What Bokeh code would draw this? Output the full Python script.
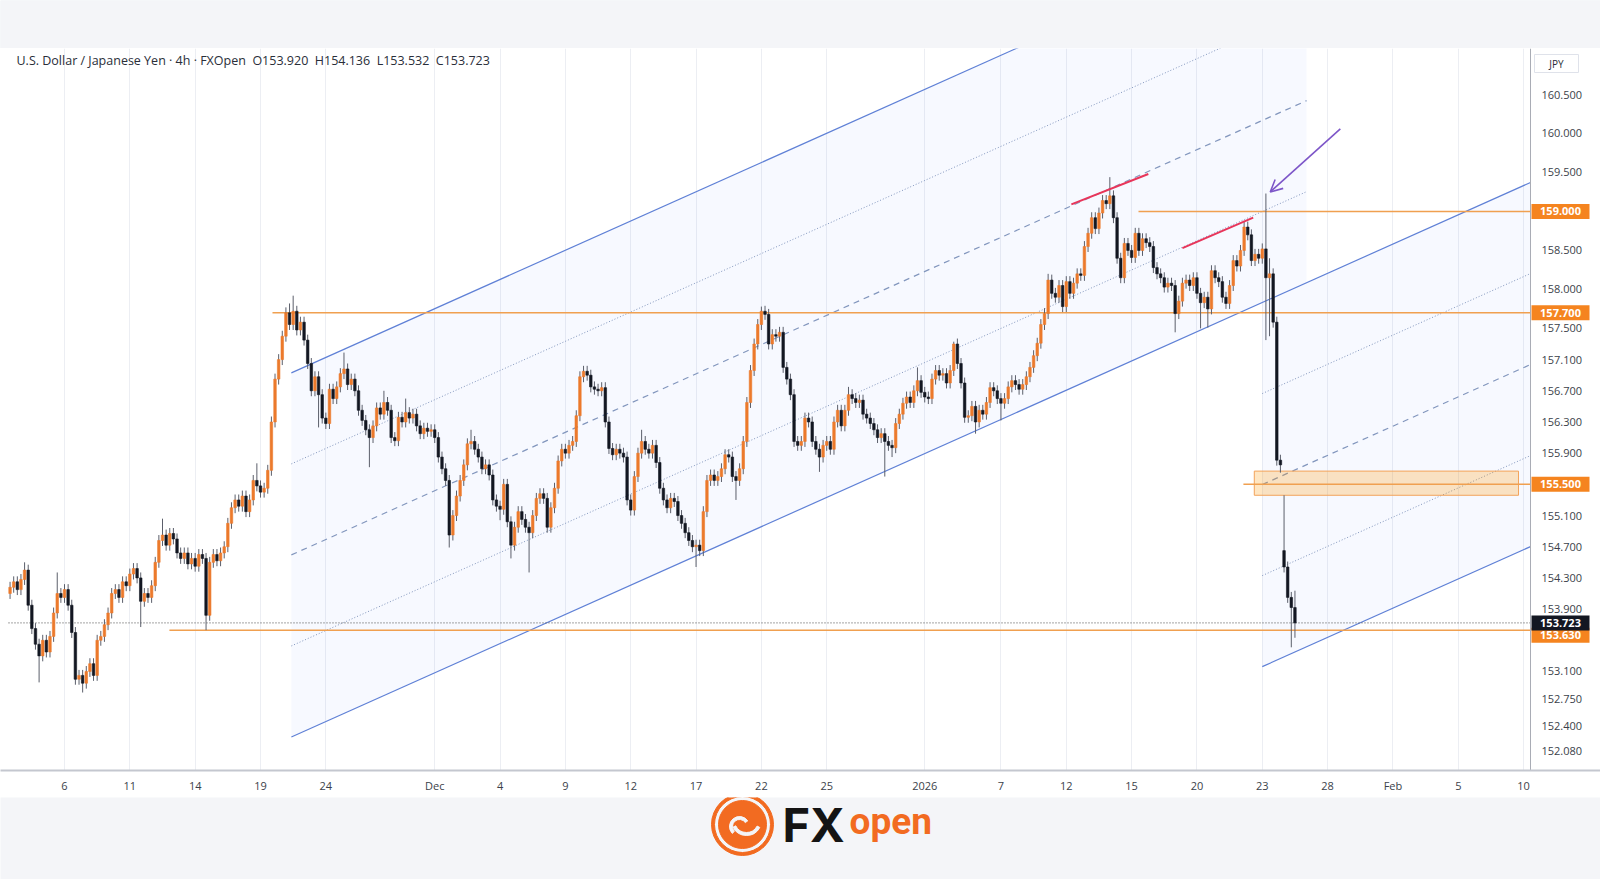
import numpy as np
from bokeh.plotting import figure
from bokeh.models import (Range1d, FixedTicker, Label, ColumnDataSource, Arrow, OpenHead)
from bokeh.layouts import column
from bokeh.embed import file_html
from bokeh.resources import INLINE
from bokeh.core.properties import value

# ---------------- data (USD/JPY 4h) ----------------
FIRST_BAR = 3          # bar index of first visible candle (bar 0 = Nov 3 00:00)
CLOSES = [
    154.18, 154.25, 154.15, 154.28, 154.40, 153.95,
    153.65, 153.45, 153.30, 153.50, 153.35, 153.55,
    153.85, 154.10, 154.05, 154.15, 153.95, 153.60,
    153.00, 153.05, 152.95, 153.10, 153.20, 153.05,
    153.50, 153.55, 153.70, 153.85, 154.10, 154.15,
    154.05, 154.25, 154.20, 154.35, 154.42, 154.30,
    154.00, 154.10, 154.05, 154.20, 154.50, 154.78,
    154.85, 154.72, 154.87, 154.80, 154.62, 154.55,
    154.62, 154.48, 154.55, 154.45, 154.60, 154.55,
    153.82, 154.50, 154.60, 154.52, 154.62, 154.70,
    155.00, 155.20, 155.30, 155.22, 155.35, 155.15,
    155.30, 155.55, 155.48, 155.40, 155.45, 155.68,
    156.30, 156.85, 157.10, 157.40, 157.70, 157.55,
    157.72, 157.48, 157.58, 157.35, 157.05, 156.70,
    156.88, 156.65, 156.35, 156.28, 156.72, 156.60,
    156.75, 156.92, 156.98, 156.78, 156.85, 156.70,
    156.45, 156.32, 156.20, 156.10, 156.25, 156.48,
    156.40, 156.55, 156.45, 156.10, 156.06, 156.36,
    156.30, 156.42, 156.35, 156.40, 156.25, 156.15,
    156.22, 156.18, 156.20, 156.10, 155.85, 155.70,
    155.55, 154.85, 155.10, 155.35, 155.55, 155.75,
    156.02, 156.05, 155.95, 155.85, 155.70, 155.75,
    155.62, 155.30, 155.22, 155.18, 155.50, 155.02,
    154.72, 154.95, 155.15, 155.05, 154.95, 154.88,
    155.10, 155.32, 155.38, 155.32, 154.95, 155.20,
    155.45, 155.80, 155.95, 155.90, 156.00, 156.05,
    156.38, 156.88, 156.95, 156.90, 156.75, 156.72,
    156.70, 156.74, 156.30, 155.96, 155.88, 155.95,
    155.90, 155.85, 155.30, 155.17, 155.60, 155.90,
    156.05, 155.95, 155.90, 156.00, 155.78, 155.45,
    155.30, 155.20, 155.32, 155.28, 155.10, 155.00,
    154.88, 154.78, 154.70, 154.72, 154.65, 155.15,
    155.55, 155.62, 155.55, 155.60, 155.70, 155.88,
    155.85, 155.60, 155.55, 155.70, 156.05, 156.55,
    156.96, 157.30, 157.55, 157.72, 157.68, 157.30,
    157.42, 157.40, 157.45, 157.00, 156.85, 156.65,
    156.05, 156.00, 156.05, 156.35, 156.30, 156.05,
    155.95, 155.85, 156.00, 156.05, 155.95, 156.30,
    156.45, 156.25, 156.45, 156.65, 156.60, 156.55,
    156.58, 156.40, 156.35, 156.28, 156.20, 156.10,
    156.15, 156.05, 156.00, 155.97, 156.28, 156.40,
    156.54, 156.62, 156.55, 156.70, 156.83, 156.68,
    156.62, 156.60, 156.85, 156.96, 156.90, 156.92,
    156.80, 156.96, 157.30, 157.05, 156.80, 156.36,
    156.38, 156.50, 156.30, 156.45, 156.40, 156.55,
    156.74, 156.70, 156.60, 156.54, 156.60, 156.75,
    156.83, 156.78, 156.72, 156.78, 156.88, 157.00,
    157.15, 157.31, 157.55, 157.69, 158.12, 157.95,
    157.90, 158.05, 157.78, 158.10, 157.95, 158.08,
    158.20, 158.18, 158.55, 158.72,
    158.92, 158.78, 158.98, 159.14, 159.10, 159.20,
    158.92, 158.40, 158.15, 158.59, 158.50, 158.41,
    158.72, 158.50, 158.65, 158.60, 158.55, 158.28,
    158.20, 158.15, 158.03, 158.08, 158.05, 157.69,
    157.85, 158.08, 158.12, 158.05, 158.15, 157.95,
    157.83, 157.90, 157.75, 158.24, 158.15, 158.10,
    157.90, 157.82, 158.05, 158.37, 158.30, 158.50,
    158.80, 158.70, 158.37, 158.45, 158.40, 158.52,
    158.15, 158.20, 157.58, 155.81, 155.75,
    154.44, 154.05, 153.92, 153.723,
]
FIRST_OPEN = 154.10
OPEN_GAPS = {354: 154.65}            # Monday 26 Jan gap open
HIGHS_READ = {7: 154.50, 16: 154.37, 45: 155.06, 71: 155.77, 80: 157.82, 81: 157.92,
              95: 157.19, 106: 156.70, 112: 156.60, 130: 156.20, 177: 156.20,
              210: 157.78, 234: 156.75, 253: 157.00, 263: 157.33, 289: 158.20,
              306: 159.44, 343: 158.88, 349: 159.23, 350: 158.40, 354: 155.36,
              357: 154.136}
LOWS_READ = {11: 152.96, 23: 152.83, 39: 153.67, 57: 153.63, 88: 156.23, 102: 155.72,
             124: 154.69, 138: 155.04, 141: 154.55, 146: 154.37, 192: 154.44,
             203: 155.30, 226: 155.66, 244: 155.60, 246: 155.85, 269: 156.15,
             276: 156.32, 324: 157.45, 331: 157.50, 333: 157.51, 349: 157.35,
             350: 157.40, 353: 155.65, 356: 153.41, 357: 153.532}
TYPICAL_WICK = 0.07

# axis labels
Y_TICKS = [152.08, 152.4, 152.75, 153.1, 153.9, 154.3, 154.7, 155.1, 155.9,
           156.3, 156.7, 157.1, 157.5, 158.0, 158.5, 159.5, 160.0, 160.5]
X_TICK_LABELS = ["6", "11", "14", "19", "24", "Dec", "4", "9", "12", "17", "22", "25",
                 "2026", "7", "12", "15", "20", "23", "28", "Feb", "5", "10"]
X_TICK_TRADING_DAY = [3, 6, 9, 12, 15, 20, 23, 26, 29, 32, 35, 38,
                      43, 47, 50, 53, 56, 59, 62, 65, 68, 71]
HOLIDAY_DAYS = [38, 43]   # Dec 25, Jan 1: half sessions (3 bars)

# drawings (bar index, price)
LEVEL_PRICES = [159.000, 157.700, 155.500, 153.630]
LEVEL_FROM_BAR = [313.9, 75.3, 342.8, 46.9]
LAST_PRICE = 153.723
ZONE = dict(left=345.8, right=418.6, bottom=155.36, top=155.67)
CH_START, CH1_END, CH2_START = 80.5, 360.2, 348.0
CH_LOW0, CH_SLOPE, CH_WIDTH = 152.26, 0.02083, 4.67
RED_X0, RED_Y0, RED_X1, RED_Y1 = [295.4, 326.0], [159.09, 158.53], [316.6, 345.5], [159.48, 158.92]
ARROW_FROM, ARROW_TO = (369.5, 160.06), (350.2, 159.25)

# visible window of the price pane
X_START, X_END = 2.57, 421.9
Y_TOP, Y_BOT = 161.09, 151.83

# ---------------- layout geometry (pixels) ----------------
W, H_TOP, H_MAIN, H_LOGO = 1600, 48, 749, 82
PANE_L, PANE_R = 8, 1530          # price pane left / right (axis line) in page px
AXIS_H = 27
PANE_H = H_MAIN - AXIS_H
PPB = (PANE_R - PANE_L) / (X_END - X_START)     # px per bar
PPP = PANE_H / (Y_TOP - Y_BOT)                  # px per yen
XR_L = X_START - PANE_L / PPB
XR_R = X_END + (W - PANE_R) / PPB

UP, DOWN, WICK = "#ec7a2c", "#131722", "#5b5f6b"
LEVEL_COL = "#f0a050"
BOX_COL = "#f5841f"
CH_COL, CH_DASH_COL = "#5f80d6", "#8296bd"
BAND = "#f4f5f8"
FONT = "Open Sans"
LAB_COL = "#3b3f4a"

bars = np.arange(FIRST_BAR, FIRST_BAR + len(CLOSES))
opens = [FIRST_OPEN] + CLOSES[:-1]
opens = [OPEN_GAPS.get(int(b), o) for b, o in zip(bars, opens)]
highs = [HIGHS_READ.get(int(b), max(o, c) + TYPICAL_WICK) for b, o, c in zip(bars, opens, CLOSES)]
lows = [LOWS_READ.get(int(b), min(o, c) - TYPICAL_WICK) for b, o, c in zip(bars, opens, CLOSES)]
colors = [UP if c >= o else DOWN for o, c in zip(opens, CLOSES)]
src = ColumnDataSource(dict(x=bars, o=opens, c=CLOSES, h=highs, l=lows,
                            top=np.maximum(opens, CLOSES), bot=np.minimum(opens, CLOSES),
                            col=colors))


def day_to_bar(d):
    return 6 * d - sum(3 for hd in HOLIDAY_DAYS if d > hd)


tick_pos = [day_to_bar(d) for d in X_TICK_TRADING_DAY]

# ---------------- top band ----------------
top = figure(width=W, height=H_TOP, x_range=Range1d(0, 1), y_range=Range1d(0, 1),
             x_axis_location=None, y_axis_location=None, toolbar_location=None,
             output_backend="svg", min_border=0, outline_line_color=None,
             background_fill_color=BAND, border_fill_color=BAND)
top.quad(left=[0], right=[1], bottom=[0], top=[1], color=BAND)
top.grid.visible = False

# ---------------- main chart ----------------
p = figure(width=W, height=H_MAIN, x_range=Range1d(XR_L, XR_R),
           y_range=Range1d(Y_BOT, Y_TOP), y_axis_location=None,
           toolbar_location=None, output_backend="svg",
           min_border_left=0, min_border_top=0, min_border_right=0, min_border_bottom=AXIS_H,
           outline_line_color=None, background_fill_color="white", border_fill_color="white")

xt = FixedTicker(ticks=tick_pos)
p.xaxis.ticker = xt
p.xgrid.ticker = xt
p.xaxis.major_label_overrides = {t: lab for t, lab in zip(tick_pos, X_TICK_LABELS)}
p.xgrid.grid_line_color = "#eceef3"
p.ygrid.grid_line_color = None
p.xaxis.major_tick_line_color = None
p.xaxis.minor_tick_line_color = None
p.xaxis.major_tick_out = 0
p.xaxis.major_tick_in = 0
p.xaxis.minor_tick_out = 0
p.xaxis.major_label_text_font = FONT
p.xaxis.major_label_text_font_size = "11px"
p.xaxis.major_label_text_color = LAB_COL
p.xaxis.axis_line_color = "#c4c7cf"
p.xaxis.axis_line_width = 2
p.xaxis.major_label_standoff = 7


def ch(b, k):
    return CH_LOW0 + CH_SLOPE * (np.asarray(b) - CH_START) + k * CH_WIDTH


# channel fills
b1 = np.array([CH_START, CH1_END])
p.patch(np.r_[b1, b1[::-1]], np.r_[ch(b1, 0), ch(b1[::-1], 1)],
        fill_color="#2962ff", fill_alpha=0.035, line_color=None)
b2 = np.array([CH2_START, X_END])
p.patch(np.r_[b2, b2[::-1]], np.r_[ch(b2, 0), ch(b2[::-1], -1)],
        fill_color="#2962ff", fill_alpha=0.035, line_color=None)

# channel lines
p.line(b1, ch(b1, 1), line_color=CH_COL, line_width=1.2)
p.line(b1, ch(b1, 0.75), line_color=CH_DASH_COL, line_width=1, line_dash="1 2")
p.line(b1, ch(b1, 0.5), line_color=CH_DASH_COL, line_width=1.2, line_dash="6 5")
p.line(b1, ch(b1, 0.25), line_color=CH_DASH_COL, line_width=1, line_dash="1 2")
bl = np.array([CH_START, X_END])
p.line(bl, ch(bl, 0), line_color=CH_COL, line_width=1.2)
p.line(b2, ch(b2, -0.25), line_color=CH_DASH_COL, line_width=1, line_dash="1 2")
p.line(b2, ch(b2, -0.5), line_color=CH_DASH_COL, line_width=1.2, line_dash="6 5")
p.line(b2, ch(b2, -0.75), line_color=CH_DASH_COL, line_width=1, line_dash="1 2")
p.line(b2, ch(b2, -1), line_color=CH_COL, line_width=1.2)

# zone
p.quad(left=[ZONE["left"]], right=[ZONE["right"]], bottom=[ZONE["bottom"]], top=[ZONE["top"]],
       fill_color="#ff9800", fill_alpha=0.24, line_color="#f3a35a", line_width=1)

# horizontal levels
p.segment(x0=LEVEL_FROM_BAR, x1=[X_END] * len(LEVEL_PRICES), y0=LEVEL_PRICES,
          y1=LEVEL_PRICES, line_color=LEVEL_COL, line_width=1.5)
p.segment(x0=[X_START], x1=[X_END], y0=[LAST_PRICE], y1=[LAST_PRICE],
          line_color="#4a4a4a", line_width=1, line_dash="1 2")

# candles
p.segment(x0="x", x1="x", y0="l", y1="h", line_color=WICK, line_width=1, source=src)
p.vbar(x="x", width=0.7, top="top", bottom="bot", fill_color="col", line_color="col",
       line_width=0.6, source=src)

# red trend marks
p.segment(x0=RED_X0, y0=RED_Y0, x1=RED_X1, y1=RED_Y1, line_color="#e8355a", line_width=2)

# purple arrow
p.add_layout(Arrow(end=OpenHead(size=12, line_color="#7d56c8", line_width=1.6),
                   x_start=ARROW_FROM[0], y_start=ARROW_FROM[1],
                   x_end=ARROW_TO[0], y_end=ARROW_TO[1],
                   line_color="#7d56c8", line_width=1.6))

# header text
p.add_layout(Label(x=X_START, y=Y_TOP, x_offset=8, y_offset=-12, text_baseline="middle",
                   text="U.S. Dollar / Japanese Yen \u00b7 4h \u00b7 FXOpen\u00a0\u00a0O153.920\u00a0\u00a0H154.136\u00a0\u00a0L153.532\u00a0\u00a0C153.723",
                   text_font=FONT, text_font_size="12.5px", text_color="#2a2e39"))

# ---------------- price scale (drawn on the right of the pane) ----------------
p.segment(x0=[X_END], x1=[X_END], y0=[Y_BOT], y1=[Y_TOP], line_color="#a9acb5", line_width=1)
p.quad(left=[X_END + 1 / PPB], right=[XR_R], bottom=[Y_BOT], top=[Y_TOP],
       fill_color="white", line_color=None)
p.text(x=[X_END + 11 / PPB] * len(Y_TICKS), y=Y_TICKS, text=[f"{t:.3f}" for t in Y_TICKS],
       text_font=value(FONT), text_font_size="11px", text_color=LAB_COL,
       text_baseline="middle", text_align="left")

# currency box
jy = Y_TOP - 15 / PPP
p.quad(left=[X_END + 4 / PPB], right=[X_END + 48 / PPB], bottom=[jy - 9 / PPP], top=[jy + 9 / PPP],
       fill_color="white", line_color="#dfe2ea", line_width=1)
p.text(x=[X_END + 26 / PPB], y=[jy], text=["JPY"], text_font=value(FONT), text_font_size="10px",
       text_color="#2a2e39", text_baseline="middle", text_align="center")

# price boxes
box_prices = LEVEL_PRICES + [LAST_PRICE]
box_nudge_px = [0, 0, 0, -5, 0]
box_cols = [BOX_COL] * len(LEVEL_PRICES) + ["#131722"]
box_y = [pr + n / PPP for pr, n in zip(box_prices, box_nudge_px)]
p.quad(left=[X_END + 1 / PPB] * len(box_y), right=[X_END + 59 / PPB] * len(box_y),
       bottom=[y - 7.5 / PPP for y in box_y], top=[y + 7.5 / PPP for y in box_y],
       fill_color=box_cols, line_color=None)
p.text(x=[X_END + 30 / PPB] * len(box_y), y=box_y, text=[f"{pr:.3f}" for pr in box_prices],
       text_font=value(FONT), text_font_size="11px", text_font_style="bold",
       text_color="white", text_baseline="middle", text_align="center")

# ---------------- logo band ----------------
lg = figure(width=W, height=H_LOGO, x_range=Range1d(0, W), y_range=Range1d(0, H_LOGO),
            x_axis_location=None, y_axis_location=None, toolbar_location=None,
            output_backend="svg", min_border=0, outline_line_color=None,
            background_fill_color=BAND, border_fill_color=BAND)
lg.grid.visible = False
ORANGE = "#f26b21"
LOGO_X, LOGO_Y = 742, 55
lg.annulus(x=[LOGO_X], y=[LOGO_Y], inner_radius=28, outer_radius=31, color=ORANGE)
lg.circle(x=[LOGO_X], y=[LOGO_Y], radius=24, color=ORANGE)
lg.annular_wedge(x=[LOGO_X - 3], y=[LOGO_Y - 2], inner_radius=7, outer_radius=10,
                 start_angle=0.6, end_angle=3.9, color=BAND)
lg.annular_wedge(x=[LOGO_X + 4], y=[LOGO_Y + 4], inner_radius=12, outer_radius=15,
                 start_angle=3.6, end_angle=5.8, color=BAND)
lg.text(x=[782], y=[LOGO_Y], text=["FX"], text_baseline="middle", text_font=value("Inter"),
        text_font_style="bold", text_font_size="47px", text_color="#141414")
lg.text(x=[849], y=[LOGO_Y + 3], text=["open"], text_baseline="middle", text_font=value("Roboto"),
        text_font_style="bold", text_font_size="37px", text_color=ORANGE)

layout = column(top, p, lg, spacing=0)
open("out.html", "w").write(file_html(layout, INLINE))
